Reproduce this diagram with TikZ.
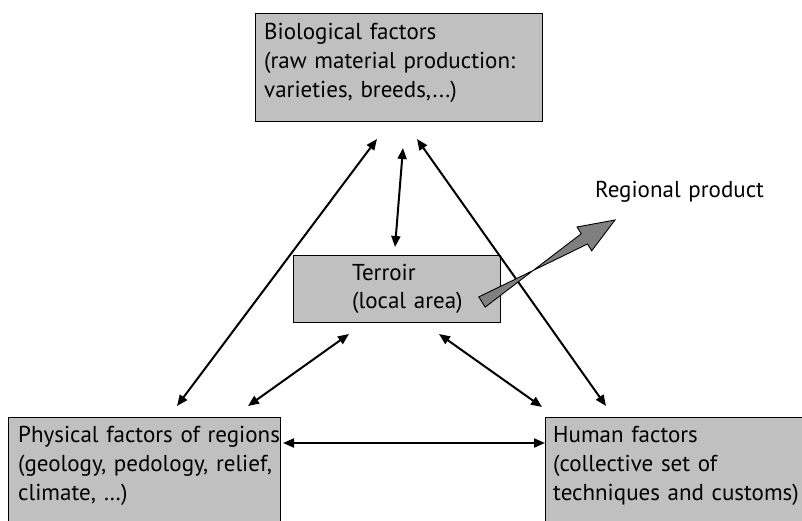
\documentclass[tikz,border=0pt]{standalone}
\usepackage{fontspec}
\setmainfont{PT Sans}
\usetikzlibrary{arrows.meta,calc}
\definecolor{boxgray}{HTML}{C0C0C0}
\definecolor{prodgray}{HTML}{808080}
\begin{document}
\begin{tikzpicture}[x=1pt,y=-1pt,
  box/.style={draw=black, line width=1pt, fill=boxgray, anchor=north west, inner sep=0pt},
  lbl/.style={anchor=base west, inner sep=0pt, text width=#1, align=left,
    font=\fontsize{23}{29}\selectfont},
  lbl/.default=300pt,
  link/.style={line width=2pt,
    {Triangle[length=11pt,width=9pt]}-{Triangle[length=11pt,width=9pt]}},
  product/.style={draw=black, line width=0.9pt, fill=prodgray}]
\useasboundingbox (0,0) rectangle (802,521);

% factor boxes
\node[box, minimum width=287pt, minimum height=108pt] (bio) at (255,13) {};
\node[box, minimum width=207pt, minimum height=67pt] (terroir) at (293,255) {};
\node[box, minimum width=272pt, minimum height=130pt] (phys) at (8,417) {};
\node[box, minimum width=270pt, minimum height=130pt] (human) at (545,417) {};

% box texts
\node[lbl] (biotext) at (264,40) {Biological factors\\(raw material production:\\varieties, breeds,...)};
\node[lbl=140pt, font=\fontsize{23}{28}\selectfont] (terroirtext) at (352,280) {Terroir\\(local area)};
\node[lbl] (phystext) at (18,442) {Physical factors of regions\\(geology, pedology, relief,\\climate, …)};
\node[lbl] (humantext) at (553,442) {Human factors\\(collective set of\\techniques and customs)};
\node[lbl=200pt] (regional) at (595,198) {Regional product};

% connector ends
\coordinate (bioL) at (377,139);
\coordinate (bioM) at (403,148);
\coordinate (bioR) at (417,139);
\coordinate (terT) at (395,247);
\coordinate (terL) at (349,334);
\coordinate (terR) at (439,334);
\coordinate (physA) at (177,406);
\coordinate (physB) at (248,406);
\coordinate (physC) at (283,443);
\coordinate (humA) at (606,406);
\coordinate (humB) at (542,407);
\coordinate (humC) at (545,443);

% two-way links
\draw[link] (bioL) -- (physA);
\draw[link] (bioR) -- (humA);
\draw[link] (bioM) -- (terT);
\draw[link] (terL) -- (physB);
\draw[link] (terR) -- (humB);
\draw[link] (physC) -- (humC);

% broad arrow towards the regional product
\coordinate (tail) at (482,302);
\coordinate (tip) at (615,220);
\coordinate (hb) at ($(tip)!36pt!(tail)$);
\draw[product, line join=miter]
  ($(tail)!6pt!90:(tip)$) -- ($(hb)!6pt!-90:(tip)$) -- ($(hb)!14pt!-90:(tip)$)
  -- (tip) -- ($(hb)!14pt!90:(tip)$) -- ($(hb)!6pt!90:(tip)$)
  -- ($(tail)!6pt!-90:(tip)$) -- cycle;
\end{tikzpicture}
\end{document}
